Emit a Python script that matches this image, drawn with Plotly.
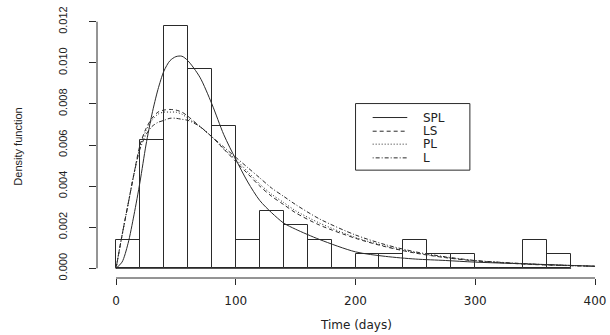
import plotly.graph_objects as go

# ---- histogram data (counts per 20-day bin) ----
bin_left = [0, 20, 40, 60, 80, 100, 120, 140, 160, 180, 200, 220, 240, 260, 280, 300, 320, 340, 360]
counts = [2, 9, 17, 14, 10, 2, 4, 3, 2, 0, 1, 1, 2, 1, 1, 0, 0, 2, 1]
bin_width = 20

# ---- fitted density curves ----
t_days = [0, 5, 10, 15, 20, 25, 30, 35, 40, 45, 50, 55, 60, 70, 80, 90, 100, 110, 120,
          130, 140, 150, 170, 200, 225, 250, 275, 300, 350, 400]
spl = [0, 0.0003, 0.0012, 0.0026, 0.0042, 0.0060, 0.0075, 0.0087, 0.0096, 0.0101, 0.0103,
       0.01032, 0.0101, 0.0093, 0.0080, 0.0065, 0.0053, 0.0042, 0.0033, 0.0027, 0.0022,
       0.0019, 0.0014, 0.0008, 0.00058, 0.00045, 0.00038, 0.0003, 0.0002, 0.0001]
ls = [0, 0.0016, 0.0031, 0.0046, 0.0060, 0.0068, 0.0073, 0.0076, 0.0077, 0.00773, 0.0077,
      0.0076, 0.0074, 0.0069, 0.0064, 0.0058, 0.0052, 0.0046, 0.0040, 0.0035, 0.0031,
      0.0027, 0.0021, 0.00146, 0.00105, 0.00074, 0.00052, 0.00036, 0.00018, 0.0001]
pl = [0, 0.0016, 0.0031, 0.0046, 0.0059, 0.0067, 0.0072, 0.0075, 0.0076, 0.0076, 0.0076,
      0.0075, 0.0073, 0.0069, 0.0064, 0.0058, 0.0053, 0.0047, 0.0041, 0.0036, 0.0032,
      0.0028, 0.0022, 0.0015, 0.00108, 0.00076, 0.00053, 0.00037, 0.00019, 0.0001]
l = [0, 0.0016, 0.0031, 0.0046, 0.0058, 0.0065, 0.0069, 0.0071, 0.0072, 0.0073, 0.0073,
     0.00725, 0.0072, 0.0069, 0.0064, 0.0059, 0.0054, 0.0049, 0.0044, 0.0039, 0.0035,
     0.0031, 0.0024, 0.00162, 0.00115, 0.0008, 0.00056, 0.00038, 0.0002, 0.0001]

x_ticks = [0, 100, 200, 300, 400]
y_ticks = [0.000, 0.002, 0.004, 0.006, 0.008, 0.010, 0.012]
y_ticktext = ["0.000", "0.002", "0.004", "0.006", "0.008", "0.010", "0.012"]

series_names = ["SPL", "LS", "PL", "L"]
series_dash = ["solid", "4px,3px", "1px,2px", "1px,2px,4px,2px"]

N = sum(counts)
density = [c / (N * bin_width) for c in counts]
centers = [b + bin_width / 2 for b in bin_left]

ink = "#2a2a2a"
fig = go.Figure()
fig.add_trace(go.Bar(x=centers, y=density, width=bin_width,
                     marker=dict(color="rgba(0,0,0,0)", line=dict(color=ink, width=1)),
                     showlegend=False, hoverinfo="skip"))

for name, ys, dash in zip(series_names, [spl, ls, pl, l], series_dash):
    fig.add_trace(go.Scatter(x=t_days, y=ys, mode="lines", name=name,
                             line=dict(color=ink, width=1, dash=dash, shape="spline", smoothing=0.8),
                             showlegend=False))

shapes = []
# baseline under histogram (zero-count bins)
shapes.append(dict(type="line", xref="x", yref="y", x0=bin_left[0], x1=bin_left[-1] + bin_width,
                   y0=0, y1=0, line=dict(color=ink, width=1)))
# R-style axis lines
shapes.append(dict(type="line", xref="paper", yref="y", x0=0, x1=0, y0=y_ticks[0], y1=y_ticks[-1],
                   line=dict(color=ink, width=1)))
shapes.append(dict(type="line", xref="x", yref="paper", x0=x_ticks[0], x1=x_ticks[-1], y0=0, y1=0,
                   line=dict(color=ink, width=1)))

# legend box
leg_x0, leg_x1, leg_y0, leg_y1 = 200, 295.5, 0.004776, 0.008017
shapes.append(dict(type="rect", xref="x", yref="y", x0=leg_x0, x1=leg_x1, y0=leg_y0, y1=leg_y1,
                   line=dict(color=ink, width=1), fillcolor="white", layer="above"))
row_y = [0.007337, 0.006671, 0.006040, 0.005374]
annotations = []
for name, dash, yy in zip(series_names, series_dash, row_y):
    shapes.append(dict(type="line", xref="x", yref="y", x0=214.3, x1=243.2, y0=yy, y1=yy,
                       line=dict(color=ink, width=1, dash=dash), layer="above"))
    annotations.append(dict(x=254.3, y=yy, xref="x", yref="y", text=name, showarrow=False,
                            xanchor="left", yanchor="middle",
                            font=dict(family="DejaVu Sans", size=12, color="#222")))

annotations.append(dict(x=0.5 * (x_ticks[0] + x_ticks[-1]), y=0, xref="x", yref="paper",
                        text="Time (days)", showarrow=False, xanchor="center", yanchor="middle",
                        yshift=-47, font=dict(family="DejaVu Sans", size=12, color="#222")))
annotations.append(dict(x=0, y=0.00592, xref="paper", yref="y",
                        text="Density function", showarrow=False, textangle=-90,
                        xanchor="center", yanchor="middle", xshift=-79,
                        font=dict(family="Liberation Sans", size=11, color="#222")))
fig.update_layout(annotations=annotations, shapes=shapes)

fig.update_layout(
    width=610, height=335,
    margin=dict(l=97, r=0, t=16, b=57),
    plot_bgcolor="white", paper_bgcolor="white",
    bargap=0,
    xaxis=dict(range=[-15.9, 412.5], showgrid=False, zeroline=False, showline=False,
               tickmode="array", tickvals=x_ticks, ticktext=[str(v) for v in x_ticks],
               ticks="outside", ticklen=6, tickcolor=ink, tickwidth=1,
               ticklabelstandoff=6,
               tickfont=dict(family="DejaVu Sans", size=12, color="#222")),
    yaxis=dict(range=[-0.000472, 0.012277], showgrid=False, zeroline=False, showline=False,
               tickmode="array", tickvals=y_ticks, ticktext=y_ticktext,
               ticks="outside", ticklen=7, tickcolor=ink, tickwidth=1,
               tickangle=-90, ticklabelstandoff=18,
               tickfont=dict(family="Liberation Sans", size=11, color="#222")),
)

fig.write_html("out.html")
